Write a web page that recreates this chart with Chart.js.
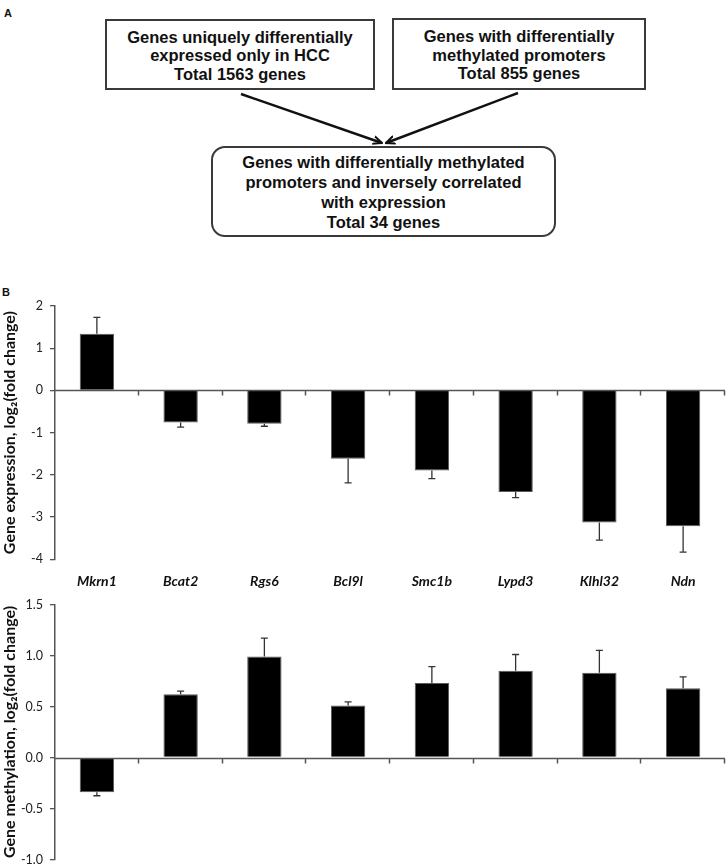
<!DOCTYPE html>
<html>
<head>
<meta charset="utf-8">
<script src="https://cdn.jsdelivr.net/npm/chart.js@4/dist/chart.umd.min.js"></script>
<style>
  html, body { margin: 0; padding: 0; background: #fff; overflow: hidden; }
  body { width: 728px; height: 865px; position: relative; font-family: "Liberation Sans", Arial, sans-serif; }
  .lbl { position: absolute; font-weight: bold; font-size: 11px; color: #111; }
  .box {
    position: absolute; box-sizing: border-box; border: 2px solid #3a3a3a;
    display: flex; align-items: center; justify-content: center; text-align: center;
    font-weight: bold; font-size: 16.5px; color: #111; line-height: 18.5px;
  }
  .round { border-radius: 14px; line-height: 20px; }
  #arrows { position: absolute; left: 0; top: 0; }
  .wrap { position: absolute; left: 0; width: 728px; }
</style>
</head>
<body>
<div class="lbl" style="left:4px;top:7px;">A</div>
<div class="box" style="left:105px;top:19px;width:270px;height:71px;padding-top:2px;">Genes uniquely differentially<br>expressed only in HCC<br>Total 1563 genes</div>
<div class="box" style="left:392px;top:18px;width:254px;height:72px;padding-top:2px;">Genes with differentially<br>methylated promoters<br>Total 855 genes</div>
<svg id="arrows" width="728" height="150">
  <defs>
    <marker id="head" markerWidth="10" markerHeight="10" refX="9" refY="5" orient="auto" markerUnits="userSpaceOnUse">
      <path d="M0,1 L9,5 L0,9" fill="none" stroke="#111" stroke-width="2"/>
    </marker>
  </defs>
  <line x1="241" y1="94" x2="382" y2="143" stroke="#111" stroke-width="2.5" marker-end="url(#head)"/>
  <line x1="518" y1="93" x2="386" y2="143" stroke="#111" stroke-width="2.5" marker-end="url(#head)"/>
</svg>
<div class="box round" style="left:211px;top:146px;width:345px;height:91px;">Genes with differentially methylated<br>promoters and inversely correlated<br>with expression<br>Total 34 genes</div>
<div class="lbl" style="left:2px;top:286px;">B</div>

<div class="wrap" style="top:290px;height:315px;"><canvas id="exprChart"></canvas></div>
<div class="wrap" style="top:590px;height:284px;"><canvas id="methChart"></canvas></div>

<script>
// data
const genes = ['Mkrn1', 'Bcat2', 'Rgs6', 'Bcl9l', 'Smc1b', 'Lypd3', 'Klhl32', 'Ndn'];
const exprValues = [1.34, -0.76, -0.79, -1.62, -1.90, -2.41, -3.13, -3.22];
const exprErrors = [0.39, 0.11, 0.06, 0.57, 0.19, 0.13, 0.42, 0.61];
const methValues = [-0.34, 0.62, 0.99, 0.51, 0.73, 0.85, 0.83, 0.68];
const methErrors = [0.035, 0.03, 0.18, 0.035, 0.16, 0.16, 0.22, 0.11];
const exprRange = { min: -4, max: 2, step: 1 };
const methRange = { min: -1, max: 1.5, step: 0.5 };

const AXIS = '#555';
const FONT = 'Lato, "Open Sans", sans-serif';

// one-sided error bars + zero line with boundary ticks
const extrasPlugin = {
  id: 'extras',
  afterDatasetsDraw(chart, args, opts) {
    const ctx = chart.ctx;
    const y = chart.scales.y;
    const meta = chart.getDatasetMeta(0);
    const vals = chart.data.datasets[0].data;
    const errs = opts.errors || [];
    ctx.save();
    ctx.strokeStyle = '#333';
    ctx.lineWidth = 1.3;
    meta.data.forEach((bar, i) => {
      const v = vals[i];
      const e = errs[i];
      const yEnd = y.getPixelForValue(v >= 0 ? v + e : v - e);
      const yStart = y.getPixelForValue(v);
      ctx.beginPath();
      ctx.moveTo(bar.x, yStart);
      ctx.lineTo(bar.x, yEnd);
      ctx.moveTo(bar.x - 3.5, yEnd);
      ctx.lineTo(bar.x + 3.5, yEnd);
      ctx.stroke();
    });
    // zero axis
    const y0 = Math.round(y.getPixelForValue(0)) + 0.5;
    const area = chart.chartArea;
    ctx.strokeStyle = AXIS;
    ctx.lineWidth = 1.5;
    ctx.beginPath();
    ctx.moveTo(area.left, y0);
    ctx.lineTo(area.right, y0);
    const n = vals.length;
    for (let i = 1; i <= n; i++) {
      const bx = Math.round(area.left + i * (area.right - area.left) / n) - 0.5;
      ctx.moveTo(bx, y0);
      ctx.lineTo(bx, y0 + 5);
    }
    ctx.stroke();
    ctx.restore();
  }
};

function makeChart(id, values, errors, range, title, showLabels, padding, fmt) {
  return new Chart(document.getElementById(id), {
    type: 'bar',
    data: {
      labels: genes,
      datasets: [{
        data: values,
        backgroundColor: '#000',
        borderColor: '#5a5a5a',
        borderWidth: 1,
        barPercentage: 0.41,
        categoryPercentage: 1
      }]
    },
    options: {
      responsive: true,
      maintainAspectRatio: false,
      animation: false,
      layout: { padding: padding },
      plugins: {
        legend: { display: false },
        tooltip: { enabled: false },
        extras: { errors: errors }
      },
      scales: {
        x: {
          display: showLabels,
          grid: { display: false, drawTicks: false },
          border: { display: false },
          ticks: {
            padding: 14,
            color: '#111',
            font: { family: FONT, size: 14, weight: 'bold', style: 'italic' }
          }
        },
        y: {
          min: range.min,
          max: range.max,
          afterFit: (s) => { s.width = 55; },
          grid: { drawOnChartArea: false, drawTicks: true, tickLength: 5, color: AXIS, lineWidth: 1.3 },
          border: { display: true, color: AXIS, width: 1.5 },
          ticks: {
            stepSize: range.step,
            padding: 7,
            color: '#222',
            font: { family: FONT, size: 12.5 },
            callback: fmt
          },
          title: {
            display: true,
            text: title,
            color: '#111',
            padding: { top: 0, bottom: 0 },
            font: { family: FONT, size: 16, weight: 'bold' }
          }
        }
      }
    },
    plugins: [extrasPlugin]
  });
}

makeChart('exprChart', exprValues, exprErrors, exprRange,
  'Gene expression, log\u2082(fold change)', true,
  { top: 16, right: 3, bottom: 1, left: 0 },
  (v) => String(v));

makeChart('methChart', methValues, methErrors, methRange,
  'Gene methylation, log\u2082(fold change)', false,
  { top: 14, right: 3, bottom: 10, left: 0 },
  (v) => v.toFixed(1));
</script>
</body>
</html>
